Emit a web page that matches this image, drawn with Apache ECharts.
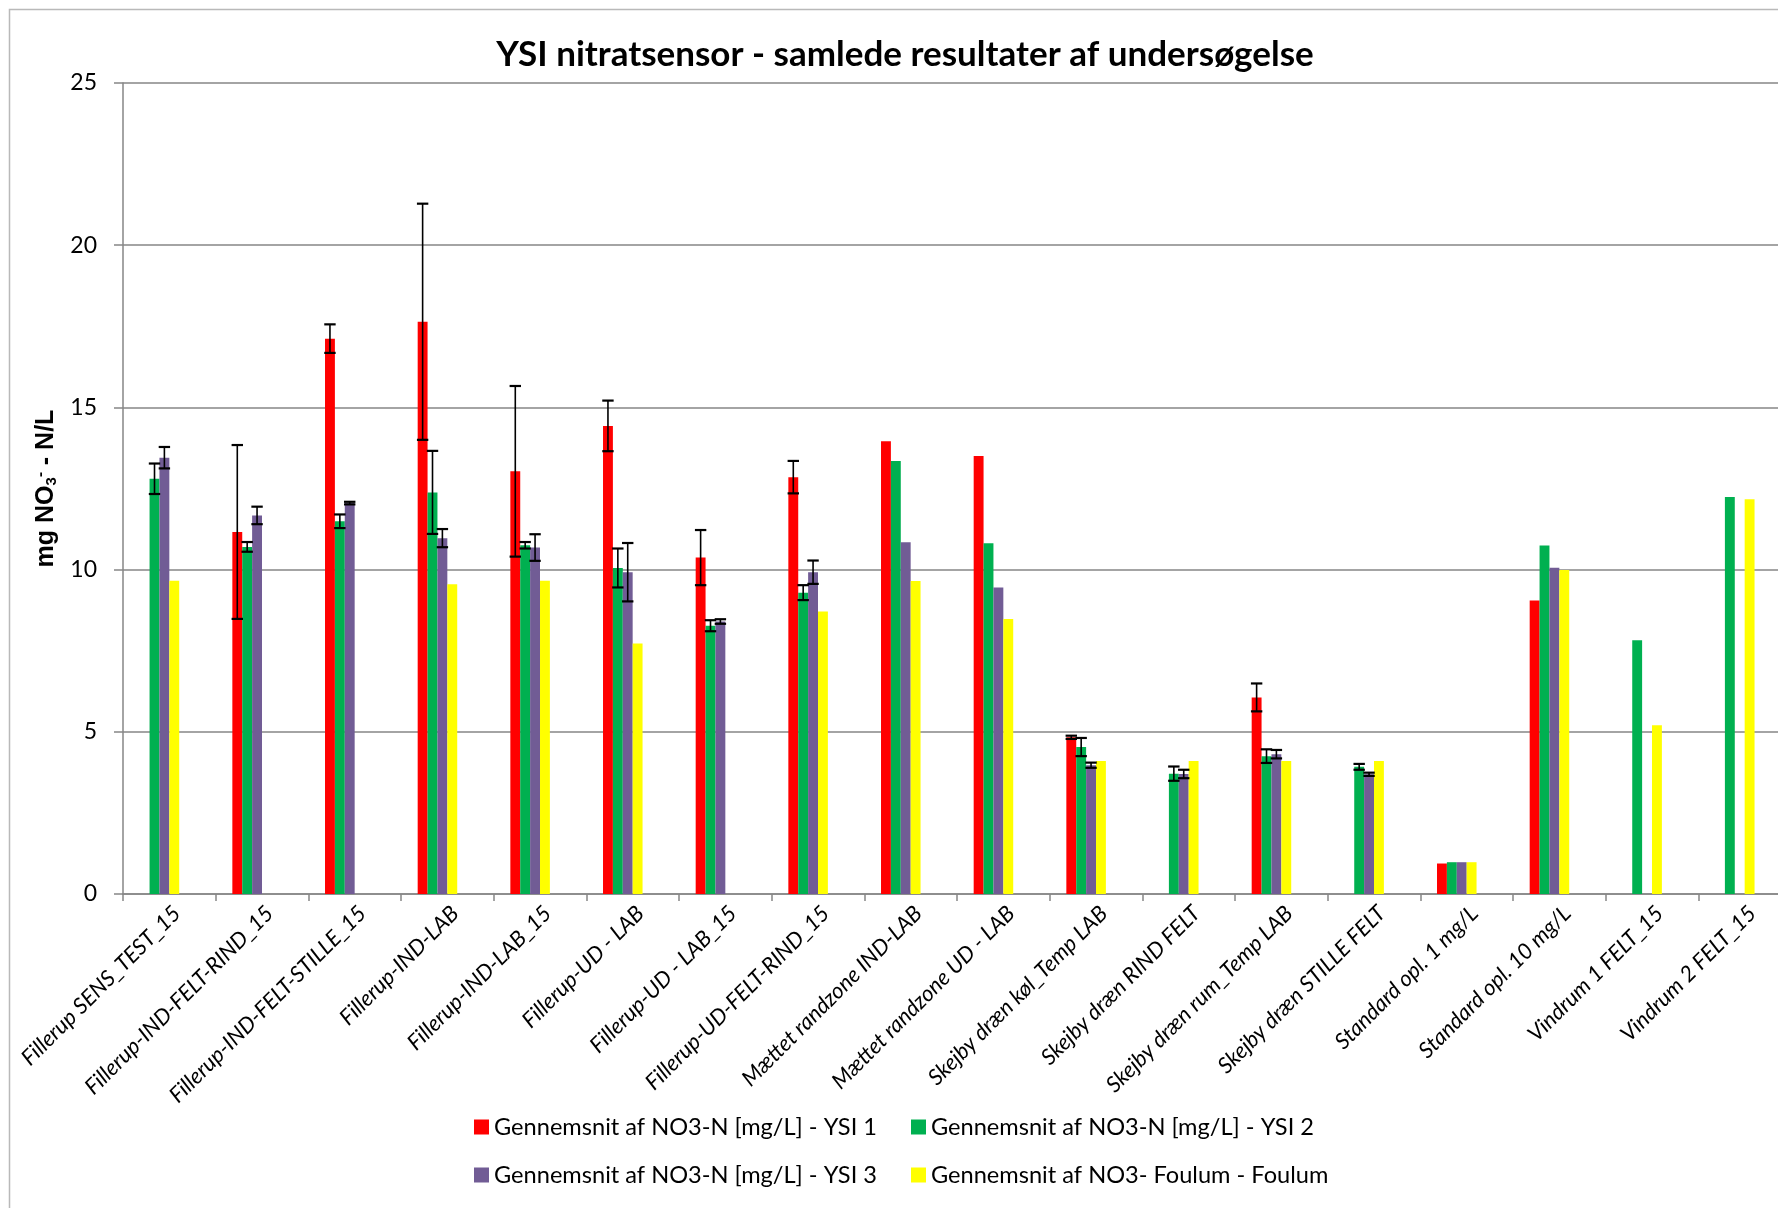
<!DOCTYPE html>
<html>
<head>
<meta charset="utf-8">
<title>YSI nitratsensor</title>
<script src="https://cdn.jsdelivr.net/npm/echarts@6/dist/echarts.min.js"></script>
<style>
  html, body { margin: 0; padding: 0; background: #fff; }
  #chart { width: 1778px; height: 1208px; }
</style>
</head>
<body>
<div id="chart"></div>
<script>
var categories = ['Fillerup SENS_TEST_15', 'Fillerup-IND-FELT-RIND_15', 'Fillerup-IND-FELT-STILLE_15',
    'Fillerup-IND-LAB', 'Fillerup-IND-LAB_15', 'Fillerup-UD - LAB', 'Fillerup-UD - LAB_15',
    'Fillerup-UD-FELT-RIND_15', 'Mættet randzone IND-LAB', 'Mættet randzone UD - LAB',
    'Skejby dræn køl_Temp LAB', 'Skejby dræn RIND FELT', 'Skejby dræn rum_Temp LAB',
    'Skejby dræn STILLE FELT', 'Standard opl. 1 mg/L', 'Standard opl. 10 mg/L',
    'Vindrum 1 FELT_15', 'Vindrum 2 FELT_15'];

var seriesNames = ['Gennemsnit af NO3-N [mg/L] - YSI 1', 'Gennemsnit af NO3-N [mg/L] - YSI 2',
    'Gennemsnit af NO3-N [mg/L] - YSI 3', 'Gennemsnit af NO3- Foulum - Foulum'];

var ysi1 = [null, 11.16, 17.12, 17.64, 13.03, 14.43, 10.37, 12.85, 13.96, 13.50, 4.83, null, 6.06, null, 0.94, 9.05, null, null];
var ysi1Err = [null, 2.68, 0.44, 3.64, 2.63, 0.78, 0.85, 0.50, null, null, 0.05, null, 0.43, null, null, null, null, null];
var ysi2 = [12.80, 10.70, 11.49, 12.38, 10.75, 10.05, 8.27, 9.29, 13.35, 10.81, 4.53, 3.71, 4.25, 3.92, 0.98, 10.74, 7.82, 12.24];
var ysi2Err = [0.47, 0.15, 0.21, 1.28, 0.10, 0.60, 0.17, 0.23, null, null, 0.28, 0.22, 0.21, 0.09, null, null, null, null];
var ysi3 = [13.45, 11.67, 12.05, 10.97, 10.68, 9.92, 8.40, 9.92, 10.84, 9.45, 3.97, 3.70, 4.31, 3.69, 0.98, 10.06, null, null];
var ysi3Err = [0.33, 0.27, 0.04, 0.28, 0.41, 0.90, 0.07, 0.36, null, null, 0.08, 0.13, 0.13, 0.05, null, null, null, null];
var foulum = [9.66, null, null, 9.55, 9.66, 7.72, null, 8.71, 9.65, 8.48, 4.10, 4.10, 4.10, 4.10, 0.98, 9.99, 5.20, 12.17];
// the excel chart keeps two empty slots after the four series
var emptySlot = categories.map(function () { return null; });

var yTicks = { min: 0, max: 25, interval: 5 };
var colors = ['#ff0000', '#00b050', '#715c95', '#ffff00'];

var SLOTS = 6;
var CAT_GAP = 0.36;

function errData(vals, errs) {
    var out = [];
    for (var i = 0; i < vals.length; i++) {
        if (vals[i] != null && errs[i] != null) out.push([i, vals[i], errs[i]]);
    }
    return out;
}

function errSeries(slot, vals, errs) {
    return {
        type: 'custom',
        z: 5,
        silent: true,
        encode: { x: 0, y: 1 },
        data: errData(vals, errs),
        renderItem: function (params, api) {
            var band = api.size([1, 0])[0];
            var bw = band * (1 - CAT_GAP) / SLOTS;
            var off = (slot - (SLOTS - 1) / 2) * bw;
            var v = api.value(1), e = api.value(2);
            var hi = api.coord([api.value(0), v + e]);
            var lo = api.coord([api.value(0), v - e]);
            var x = hi[0] + off;
            var cap = 5.7;
            var st = { stroke: '#000', lineWidth: 1.6 };
            var stc = { stroke: '#000', lineWidth: 2.2 };
            return {
                type: 'group',
                children: [
                    { type: 'line', shape: { x1: x, y1: hi[1], x2: x, y2: lo[1] }, style: st },
                    { type: 'line', shape: { x1: x - cap, y1: hi[1], x2: x + cap, y2: hi[1] }, style: stc },
                    { type: 'line', shape: { x1: x - cap, y1: lo[1], x2: x + cap, y2: lo[1] }, style: stc }
                ]
            };
        }
    };
}

function barSeries(name, data, color) {
    return {
        name: name,
        type: 'bar',
        barGap: '0%',
        barCategoryGap: (CAT_GAP * 100) + '%',
        itemStyle: { color: color },
        data: data
    };
}

var chart = echarts.init(document.getElementById('chart'));

var legendText = { fontFamily: 'Lato', fontSize: 23.6, color: '#000' };
var axisName = { fontFamily: 'Liberation Sans', fontWeight: 'bold', color: '#000' };

var option = {
    backgroundColor: '#fff',
    animation: false,
    graphic: [{
        type: 'rect',
        shape: { x: 9.5, y: 9.5, width: 1820, height: 1260 },
        style: { fill: null, stroke: '#b9b9b9', lineWidth: 1.5 },
        silent: true
    }],
    title: {
        text: 'YSI nitratsensor - samlede resultater af undersøgelse',
        left: 900,
        textAlign: 'center',
        top: 32,
        textStyle: { fontFamily: 'Lato', fontWeight: 'bold', fontSize: 35, color: '#000' }
    },
    legend: [{
        data: [seriesNames[0], seriesNames[1]],
        left: 469, top: 1110,
        itemWidth: 15, itemHeight: 15, itemGap: 34,
        icon: 'rect',
        textStyle: legendText
    }, {
        data: [seriesNames[2], seriesNames[3]],
        left: 469, top: 1158,
        itemWidth: 15, itemHeight: 15, itemGap: 34,
        icon: 'rect',
        textStyle: legendText
    }],
    grid: { left: 123, top: 83, width: 1668, height: 811, outerBoundsMode: 'none' },
    xAxis: {
        type: 'category',
        data: categories,
        axisLine: { lineStyle: { color: '#868686', width: 1.5 } },
        axisTick: { show: true, alignWithLabel: false, length: 7, lineStyle: { color: '#868686', width: 1.5 } },
        axisLabel: {
            interval: 0, rotate: 45, margin: 8, verticalAlign: 'top',
            fontFamily: 'Lato', fontStyle: 'italic', fontSize: 22, color: '#000'
        }
    },
    yAxis: {
        type: 'value',
        min: yTicks.min, max: yTicks.max, interval: yTicks.interval,
        name: '{n|mg NO}{sub|3}{sup|-}{n| - N/L}',
        nameLocation: 'middle',
        nameGap: 56,
        nameTextStyle: {
            fontFamily: 'Liberation Sans', fontWeight: 'bold', fontSize: 25, color: '#000',
            rich: {
                n: Object.assign({ fontSize: 25 }, axisName),
                sub: Object.assign({ fontSize: 15, verticalAlign: 'bottom', padding: [9, 0, 0, 0] }, axisName),
                sup: Object.assign({ fontSize: 15, verticalAlign: 'top', padding: [0, 0, 11, 0] }, axisName)
            }
        },
        axisLine: { show: true, lineStyle: { color: '#868686', width: 1.5 } },
        axisTick: { show: true, length: 9, lineStyle: { color: '#868686', width: 1.5 } },
        axisLabel: { margin: 26, fontFamily: 'Lato', fontSize: 23, color: '#000' },
        splitLine: { lineStyle: { color: '#868686', width: 1.5 } }
    },
    series: [
        barSeries(seriesNames[0], ysi1, colors[0]),
        barSeries(seriesNames[1], ysi2, colors[1]),
        barSeries(seriesNames[2], ysi3, colors[2]),
        barSeries(seriesNames[3], foulum, colors[3]),
        barSeries('', emptySlot, '#ffffff'),
        barSeries(' ', emptySlot, '#ffffff'),
        errSeries(0, ysi1, ysi1Err),
        errSeries(1, ysi2, ysi2Err),
        errSeries(2, ysi3, ysi3Err)
    ]
};

chart.setOption(option);

window.addEventListener('resize', function () {
    chart.resize();
});
</script>
</body>
</html>
